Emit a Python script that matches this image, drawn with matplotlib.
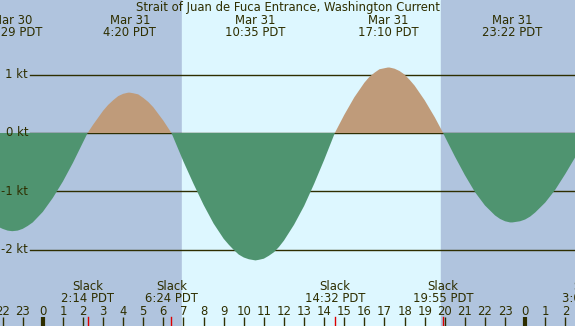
# Strait of Juan de Fuca Entrance - tidal current chart
import matplotlib
matplotlib.use('Agg')
import matplotlib.pyplot as plt

hours = [-2.5, -2.25, -2.0, -1.75, -1.52, -1.25, -1.0, -0.75, -0.5, 0.0, 0.5,
         1.0, 1.5, 2.0, 2.23,
         2.5, 3.0, 3.25, 3.5, 3.75, 4.0, 4.25, 4.33, 4.5, 4.75, 5.0, 5.25,
         5.5, 6.0, 6.40,
         6.5, 7.0, 7.5, 8.0, 8.5, 9.0, 9.25, 9.5, 9.75, 10.0, 10.25, 10.58,
         10.75, 11.0, 11.25, 11.5, 11.75,
         12.0, 12.5, 13.0, 13.5, 14.0, 14.53, 15.0, 15.5, 16.0, 16.25, 16.5,
         16.75, 17.17, 17.25, 17.5, 17.75, 18.0, 18.25, 18.5, 19.0, 19.5,
         19.92, 20.0, 20.5, 21.0,
         21.5, 22.0, 22.5, 22.75, 23.0, 23.25, 23.37, 23.75, 24.0, 24.25,
         24.5, 25.0, 25.5, 26.0, 26.5, 27.0]
speed = [-1.54, -1.60, -1.64, -1.67, -1.68, -1.67, -1.64, -1.59, -1.53, -1.35, -1.11,
         -0.83, -0.51, -0.16, 0.0,
         0.14, 0.38, 0.48, 0.56, 0.63, 0.67, 0.69, 0.69, 0.68, 0.66, 0.60, 0.53,
         0.44, 0.21, 0.0,
         -0.08, -0.49, -0.87, -1.23, -1.55, -1.81, -1.91, -2.00, -2.08, -2.13, -2.16, -2.18,
         -2.17, -2.15, -2.10, -2.04, -1.95,
         -1.84, -1.57, -1.25, -0.87, -0.46, 0.0, 0.31, 0.61, 0.86, 0.96, 1.03,
         1.09, 1.12, 1.12, 1.10, 1.06, 1.00, 0.91, 0.81, 0.56, 0.27,
         0.0, -0.06, -0.40, -0.72,
         -1.01, -1.24, -1.41, -1.47, -1.51, -1.53, -1.53, -1.51, -1.48, -1.43,
         -1.36, -1.19, -0.97, -0.70, -0.41, -0.10]

# max / min current events (top labels)
peak_hours = [-1.52, 4.33, 10.58, 17.17, 23.37]
peak_days = ['Mar 30', 'Mar 31', 'Mar 31', 'Mar 31', 'Mar 31']
peak_times = ['22:29 PDT', '4:20 PDT', '10:35 PDT', '17:10 PDT', '23:22 PDT']

# slack water events (bottom labels)
slack_hours = [2.23, 6.40, 14.53, 19.92, 27.15]
slack_times = ['2:14 PDT', '6:24 PDT', '14:32 PDT', '19:55 PDT', '3:09 PDT']

sunrise, sunset = 6.93, 19.81
tick_hours = list(range(-2, 27))
kt_levels = [1, 0, -1, -2]

NIGHT = '#b0c4de'
DAY = '#ddf7ff'
FLOOD = '#bf9b7a'
EBB = '#4f9470'
INK = '#2e2e00'
FS = 8.4

fig = plt.figure(figsize=(5.75, 3.26), dpi=100)
ax = fig.add_axes([0, 0, 1, 1])
ax.set_xlim(-2.13, 26.48)
ax.set_ylim(-3.302, 2.275)
ax.axis('off')

ax.axvspan(-5, sunrise, color=NIGHT, zorder=0)
ax.axvspan(sunrise, sunset, color=DAY, zorder=0)
ax.axvspan(sunset, 30, color=NIGHT, zorder=0)

H = 326.0
for lv in kt_levels:
    ax.axhline(lv, xmin=30 / 575, xmax=1, color=INK, linewidth=1, zorder=1)
    ax.text(28, H - (133 - lv * 58.45), f'{lv} kt', transform=None, ha='right',
            va='center', fontsize=FS, color=INK)

ax.fill_between(hours, speed, 0, where=[s >= 0 for s in speed],
                interpolate=True, color=FLOOD, linewidth=0, zorder=2)
ax.fill_between(hours, speed, 0, where=[s <= 0 for s in speed],
                interpolate=True, color=EBB, linewidth=0, zorder=2)

tr = ax.get_xaxis_transform()

ax.text(0.5, 1 - 7.5 / H, 'Strait of Juan de Fuca Entrance, Washington Current',
        transform=ax.transAxes, ha='center', va='center', fontsize=FS, color=INK)
for h, d, t in zip(peak_hours, peak_days, peak_times):
    ax.text(h, 1 - 20 / H, d, transform=tr, ha='center', va='center',
            fontsize=FS, color=INK)
    ax.text(h, 1 - 32 / H, t, transform=tr, ha='center', va='center',
            fontsize=FS, color=INK)

for h, t in zip(slack_hours, slack_times):
    ax.text(h, 1 - 287 / H, 'Slack', transform=tr, ha='center', va='center',
            fontsize=FS, color=INK)
    ax.text(h, 1 - 299 / H, t, transform=tr, ha='center', va='center',
            fontsize=FS, color=INK)
    ax.plot([h, h], [0, 9 / H], transform=tr, color='#dd0000', linewidth=1,
            zorder=3)

for h in tick_hours:
    ax.text(h, 1 - 311.5 / H, str(h % 24), transform=tr, ha='center',
            va='center', fontsize=FS, color=INK)
    lw = 3 if h % 24 == 0 else 1
    ax.plot([h, h], [0, 9 / H], transform=tr, color=INK, linewidth=lw,
            zorder=3, solid_capstyle='butt')

fig.savefig('out.png', dpi=100)
